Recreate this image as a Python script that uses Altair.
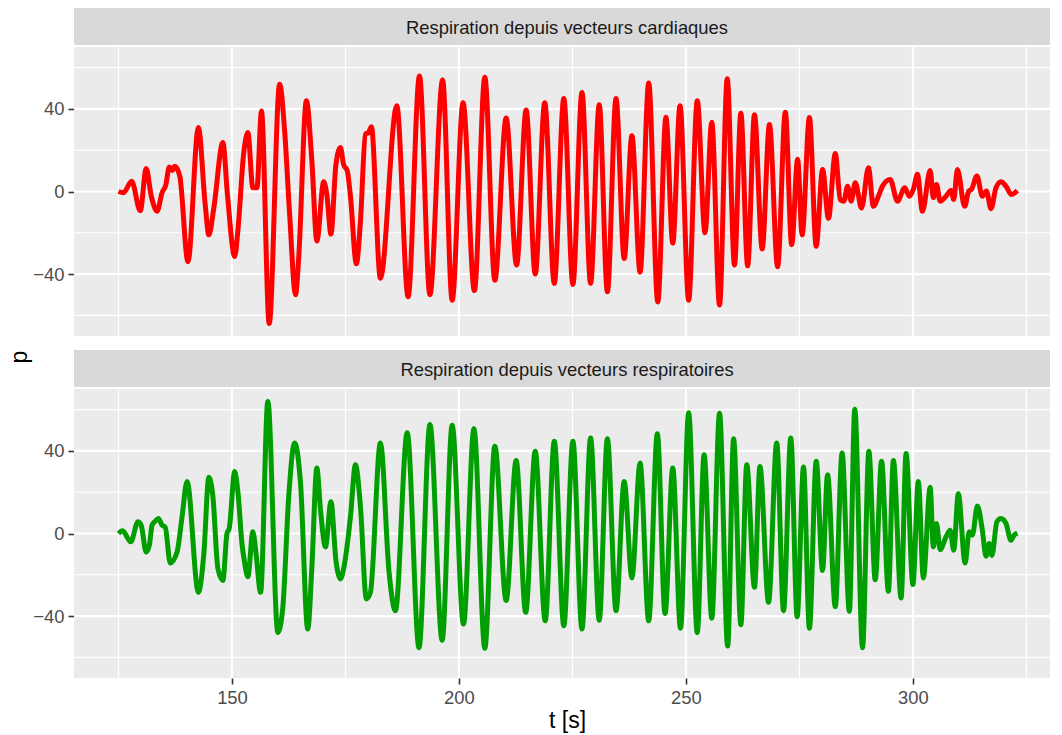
import altair as alt
import pandas as pd

labels = ["Respiration depuis vecteurs cardiaques", "Respiration depuis vecteurs respiratoires"]
colors = ["#FF0000", "#009E00"]

red_t = [125.0, 126.1, 127.9, 129.8, 131.1, 132.2, 133.5, 134.6, 135.4, 136.2, 136.8, 137.4, 138.5,
         140.3, 142.6, 144.1, 144.9, 146.0, 148.0, 149.0, 150.6, 151.3, 152.6, 153.5, 154.6, 155.5,
         156.5, 158.2, 160.5, 161.6, 162.7, 164.0, 164.7, 166.4, 167.6, 168.7, 170.2, 170.9, 171.8,
         172.9, 173.9, 174.6, 175.4, 176.1, 177.4, 178.3, 179.4, 180.1, 180.7, 182.7, 186.3, 188.8,
         191.3, 193.6, 196.4, 198.5, 200.9, 203.4, 205.7, 207.9, 210.4, 212.7, 214.8, 216.8, 218.9,
         221.0, 223.1, 225.1, 227.1, 229.0, 230.9, 232.7, 234.6, 236.4, 238.1, 239.9, 241.8, 243.8,
         245.6, 247.1, 248.7, 250.6, 252.5, 254.2, 255.7, 257.4, 259.1, 260.7, 262.1, 263.6, 265.1,
         266.8, 268.4, 270.2, 271.9, 273.3, 274.6, 275.6, 277.2, 278.7, 280.1, 281.4, 282.9, 284.0,
         284.8, 285.6, 286.4, 287.3, 288.7, 290.2, 291.3, 292.4, 293.3, 295.0, 296.6, 298.2, 299.2,
         300.1, 301.0, 302.1, 303.8, 304.5, 305.2, 306.0, 307.3, 308.4, 309.0, 309.8, 311.4, 312.3,
         312.9, 314.1, 315.3, 316.2, 317.2, 318.3, 319.4, 320.5, 321.7, 323.0]
red_p = [0, -0.6, 5, -9.3, 11.2, -2, -9.6, -0.6, 3, 11.9, 10.2, 12.2, 7.5,
         -34, 31, -6.3, -21, -8, 23.7, -1.5, -31.5, -19, 18.9, 28.6, 1.8, 1.8,
         39, -64, 52, 29.4, -11, -50, -32, 44, 14.8, -24, 4.7, -1.5, -20.6,
         13, 21.3, 13, 10, -2.3, -35, -14.5, 27.8, 28.6, 31.4, -42, 41.6, -51,
         56, -50, 54, -52.7, 43, -48, 55.4, -43, 35.6, -35.6, 39.5, -40, 43,
         -44.5, 45, -45, 48, -44.5, 42, -48.6, 45, -32.4, 27, -39, 52.5, -53.5,
         36, -25, 41.6, -52.7, 44, -20, 33.5, -55, 54.6, -35.6, 37.9, -36, 37.2,
         -27.8, 32.4, -36.4, 38.4, -25.8, 15.6, -21, 35.8, -26.5, 10.7, -13, 18.4, -3.9,
         -4.7, 2.6, -4.7, 4.2, -8, 11.5, -7.2, -2.3, 2.6, 5.8, -4.7, 1.8, -2.3,
         1, 8.3, -9.6, 10.2, -3, 3.4, -4.7, -2.3, 0.5, -3.9, 10.7, -7.2, 0.2,
         1, 7.5, -2.3, 0.2, -8.3, 1.8, 4.7, 2.6, -1.5, 0.5]

green_t = [125.0, 125.9, 127.7, 129.3, 130.0, 131.1, 131.8, 132.4, 133.1, 133.8, 134.6, 135.3, 136.4,
           137.9, 139.0, 140.1, 142.6, 143.8, 144.9, 145.8, 146.9, 148.0, 148.9, 149.4, 150.6, 151.3,
           152.2, 152.8, 153.5, 154.6, 155.3, 156.3, 157.9, 160.1, 161.2, 162.5, 163.8, 165.1, 166.7,
           167.6, 168.7, 169.5, 170.6, 171.8, 172.9, 173.9, 174.8, 176.1, 177.2, 178.3, 179.6, 180.5,
           182.7, 184.6, 186.0, 188.6, 191.2, 193.6, 196.3, 198.5, 201.0, 203.3, 205.7, 207.9, 210.4,
           212.6, 214.7, 216.8, 219.0, 221.0, 223.1, 225.1, 227.1, 229.0, 230.9, 232.7, 234.6, 236.4,
           238.1, 239.9, 241.8, 243.7, 245.4, 247.1, 248.8, 250.6, 252.5, 254.0, 255.7, 257.4, 259.2,
           260.5, 262.1, 263.4, 265.1, 266.3, 268.2, 270.0, 271.5, 273.1, 274.5, 275.9, 277.2, 278.7,
           280.1, 281.2, 282.9, 284.4, 286.0, 287.2, 288.9, 290.3, 291.7, 293.1, 294.6, 295.7, 297.4,
           298.5, 300.0, 301.2, 302.3, 303.8, 304.5, 305.2, 306.0, 307.3, 308.2, 309.0, 310.0, 311.5,
           312.4, 313.1, 314.2, 315.3, 316.1, 316.8, 317.4, 318.5, 319.4, 320.5, 321.6, 322.3, 323.0]
green_p = [0, 1.3, -4, 5.7, 4, -9, -5.7, 4, 6, 7.3, 4, 3, -14.3,
           -9, 8, 25.2, -28.5, -9.8, 27.3, 17.9, -17, -22.8, 0, 2.4, 30, 20.3,
           -4.9, -14.3, -21, 0.8, -9.8, -28.5, 64, -48, -35.8, 17.9, 43.9, 24.4, -46.3,
           -16.3, 31.7, 11.4, -6.5, 15.4, -13, -22, -14.6, 8.1, 33.3, 13, -31.7, -28.5,
           43.9, -18.7, -37.4, 48.8, -55.3, 52.8, -51.7, 52.4, -43.9, 50.7, -55.6, 42.3, -32.5,
           35.4, -38.2, 39.8, -42.3, 44.7, -44.7, 44.7, -46.3, 46.3, -42, 45.9, -37.4, 25.2,
           -21.5, 34.1, -42.3, 48.3, -38.7, 31.7, -45.9, 58.5, -48, 38.2, -41, 58.2, -54.5,
           45.9, -44.2, 33.3, -26, 32.5, -33.3, 43.9, -37.4, 46.3, -40.3, 32.2, -45.9, 35,
           -17.9, 28.5, -35.4, 39, -37.7, 60.2, -55.3, 39.8, -22.4, 35, -28, 35.4, -31.2,
           38.7, -24.7, 25.2, -21.5, 22.4, -6.5, 4.9, -7.8, -1.6, 1.6, -8.1, 19.2, -14.3,
           0.8, -0.8, 13.3, 1.6, -11, -4.9, -10.6, 5.7, 7.3, 4.9, -3.3, -0.8, 0.3]

x_major = [150, 200, 250, 300]
x_minor = [125, 175, 225, 275, 325]
y_major = [-40, 0, 40]
y_minor = [-60, -20, 20, 60]

W = 976
H = 289
SH = 37
GAP = 12
XDOM = [115.2, 330.2]
YDOM = [-70, 70]
FONT = "Liberation Sans"


def strip(label):
    base = alt.Chart(pd.DataFrame({"label": [label]}))
    bg = base.mark_rect(color="#D9D9D9").encode(
        x=alt.value(0), x2=alt.value(W), y=alt.value(0), y2=alt.value(SH))
    tx = base.mark_text(font=FONT, fontSize=18.4, color="#1A1A1A",
                        align="center", baseline="middle").encode(
        x=alt.value(493), y=alt.value(SH / 2 + 1), text="label:N")
    return alt.layer(bg, tx).properties(width=W, height=SH)


def panel(t, p, color, show_x):
    xs = alt.Scale(domain=XDOM, nice=False, zero=False)
    ys = alt.Scale(domain=YDOM, nice=False, zero=False)
    if show_x:
        xaxis = alt.Axis(values=x_major, title="t [s]", format="d", titleX=493)
    else:
        xaxis = alt.Axis(values=x_major, title=None, labels=False, ticks=False)
    yaxis = alt.Axis(values=y_major, title=None, format="d")
    bg = alt.Chart(pd.DataFrame({"a": [0]})).mark_rect(color="#EBEBEB").encode(
        x=alt.value(0), x2=alt.value(W), y=alt.value(0), y2=alt.value(H))
    vmin = alt.Chart(pd.DataFrame({"t": x_minor})).mark_rule(color="white", strokeWidth=1.1).encode(
        x=alt.X("t:Q", scale=xs, axis=xaxis))
    hmin = alt.Chart(pd.DataFrame({"p": y_minor})).mark_rule(color="white", strokeWidth=1.1).encode(
        y=alt.Y("p:Q", scale=ys, axis=yaxis))
    vmaj = alt.Chart(pd.DataFrame({"t": x_major})).mark_rule(color="white", strokeWidth=2.2).encode(
        x=alt.X("t:Q", scale=xs, axis=xaxis))
    hmaj = alt.Chart(pd.DataFrame({"p": y_major})).mark_rule(color="white", strokeWidth=2.2).encode(
        y=alt.Y("p:Q", scale=ys, axis=yaxis))
    line = alt.Chart(pd.DataFrame({"t": t, "p": p})).mark_line(
        color=color, strokeWidth=5, interpolate="monotone").encode(
        x=alt.X("t:Q", scale=xs, axis=xaxis),
        y=alt.Y("p:Q", scale=ys, axis=yaxis))
    return alt.layer(bg, vmin, hmin, vmaj, hmaj, line).properties(width=W, height=H)


ptitle = alt.Chart(pd.DataFrame({"s": ["p"]})).mark_text(
    angle=270, font=FONT, fontSize=23, color="black", align="center", baseline="middle").encode(
    x=alt.value(12), y=alt.value(349), text="s:N").properties(width=22, height=2 * SH + 2 * H + GAP)

top = alt.vconcat(strip(labels[0]), panel(red_t, red_p, colors[0], False), spacing=0)
bot = alt.vconcat(strip(labels[1]), panel(green_t, green_p, colors[1], True), spacing=0)
right = alt.vconcat(top, bot, spacing=GAP)

chart = alt.hconcat(ptitle, right, spacing=0).properties(
    padding={"left": 0, "top": 0, "right": 0, "bottom": 2}
).configure_view(stroke=None).configure_axis(
    domain=False, grid=False, tickColor="#333333", tickSize=6, tickWidth=1.6,
    labelColor="#4D4D4D", labelFont=FONT, labelFontSize=18.4, labelPadding=4,
    titleFont=FONT, titleFontSize=23, titleColor="black", titleFontWeight="normal", titlePadding=3
)

chart.save("out.html", embed_options={"renderer": "svg", "actions": False})
